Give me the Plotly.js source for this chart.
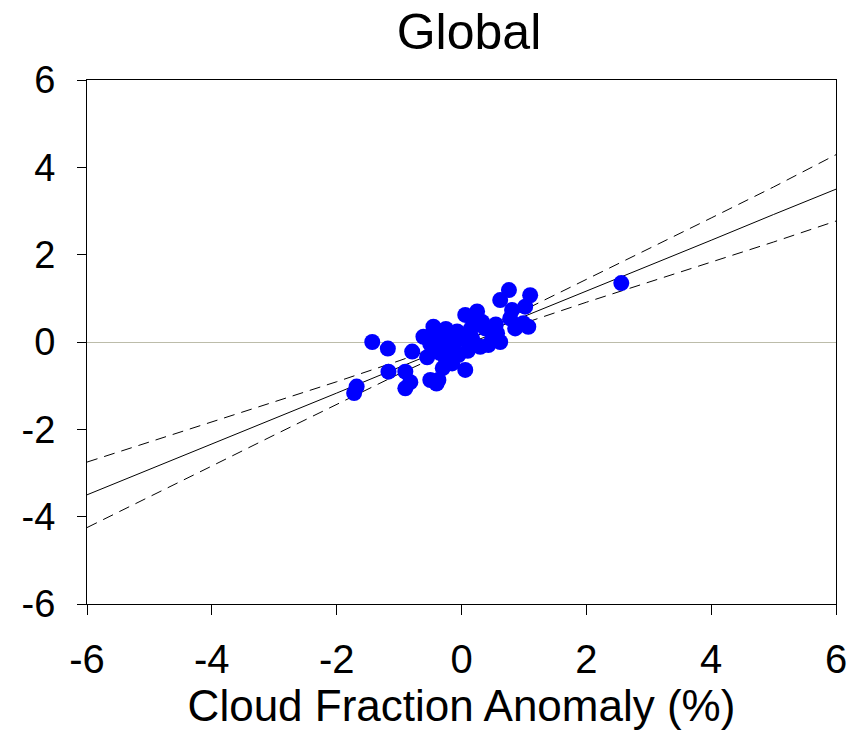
<!DOCTYPE html>
<html>
<head>
<meta charset="utf-8">
<script src="https://cdn.plot.ly/plotly-3.0.1.min.js"></script>
<style>html,body{margin:0;padding:0;background:#fff;}#chart{width:863px;height:751px;}</style>
</head>
<body>
<div id="chart"></div>
<script>
// Scatter points: cloud fraction anomaly (%) vs. y anomaly
const cloudX = [-1.72,-1.68,-1.43,-1.18,-1.17,-0.90,-0.90,-0.82,-0.79,-0.50,-0.37,-0.40,
  -0.61,-0.45,-0.40,-0.50,-0.35,-0.30,-0.25,-0.20,-0.15,-0.15,-0.10,-0.07,-0.05,0.00,
  0.06,0.06,0.10,0.17,0.20,0.25,0.30,0.33,0.38,0.43,0.50,0.57,0.62,0.62,0.76,0.78,
  0.81,0.86,0.99,1.02,1.07,1.10,2.56,-0.55,-0.30,0.15,0.55,-0.25];
const anomY = [-1.17,-1.02,0.00,-0.15,-0.68,-0.68,-1.06,-0.92,-0.22,-0.87,-0.87,-0.95,
  0.12,0.35,0.22,-0.05,-0.25,0.05,-0.40,0.15,-0.49,-0.15,0.00,0.24,-0.30,0.10,
  -0.64,0.62,-0.20,0.08,0.45,0.70,-0.11,0.46,0.31,-0.07,0.10,0.20,0.00,0.96,1.19,0.54,
  0.73,0.31,0.43,0.81,0.35,1.07,1.35,-0.35,-0.60,0.30,0.40,0.30];

// Regression line and confidence band
const lineX = [-6,-5,-4,-3,-2,-1,0,1,2,3,4,5,6];
const fitY = [-3.50,-2.92,-2.33,-1.75,-1.17,-0.58,0.00,0.58,1.17,1.75,2.33,2.92,3.50];
const upperY = [-2.75,-2.29,-1.83,-1.37,-0.91,-0.43,0.08,0.73,1.43,2.13,2.84,3.55,4.29];
const lowerY = [-4.25,-3.55,-2.84,-2.13,-1.43,-0.73,-0.08,0.43,0.91,1.37,1.83,2.29,2.77];

const tickVals = [-6,-4,-2,0,2,4,6];
const tickText = ['-6','-4','-2','0','2','4','6'];

const FONT = 'Arial, "Liberation Sans", sans-serif';

const traces = [
  {x: lineX, y: upperY, mode: 'lines', line: {color: '#000', width: 1, dash: '11px,7px'}, hoverinfo: 'skip'},
  {x: lineX, y: lowerY, mode: 'lines', line: {color: '#000', width: 1, dash: '11px,7px'}, hoverinfo: 'skip'},
  {x: lineX, y: fitY, mode: 'lines', line: {color: '#000', width: 1}, hoverinfo: 'skip'},
  {x: cloudX, y: anomY, mode: 'markers', marker: {color: '#0000ff', size: 16, line: {width: 0}}}
];

const layout = {
  width: 863, height: 751,
  paper_bgcolor: '#fff', plot_bgcolor: '#fff',
  showlegend: false,
  margin: {l: 87, r: 27, t: 80, b: 147, pad: 0},
  font: {family: FONT, color: '#000'},
  title: {text: 'Global', font: {family: FONT, size: 50, color: '#000'},
          xref: 'paper', x: 0.51, xanchor: 'center', yref: 'container', y: 0.958, yanchor: 'middle'},
  xaxis: {
    range: [-6, 6], tickvals: tickVals, ticktext: tickText,
    showgrid: false, zeroline: false,
    showline: true, linecolor: '#000', linewidth: 1, mirror: true,
    ticks: 'outside', ticklen: 10, tickwidth: 1, tickcolor: '#000',
    tickfont: {family: FONT, size: 40, color: '#000'}, ticklabelstandoff: 10,
    title: {text: 'Cloud Fraction Anomaly (%)', font: {family: FONT, size: 44, color: '#000'}, standoff: 0},
    automargin: false, fixedrange: true
  },
  yaxis: {
    range: [-6, 6], tickvals: tickVals, ticktext: tickText,
    showgrid: false, zeroline: true, zerolinecolor: '#bcbcaa', zerolinewidth: 1,
    showline: true, linecolor: '#000', linewidth: 1, mirror: true,
    ticks: 'outside', ticklen: 9, tickwidth: 1, tickcolor: '#000',
    tickfont: {family: FONT, size: 38, color: '#000'}, ticklabelstandoff: 14,
    automargin: false, fixedrange: true
  }
};

Plotly.newPlot('chart', traces, layout, {displayModeBar: false, staticPlot: true});
</script>
</body>
</html>
